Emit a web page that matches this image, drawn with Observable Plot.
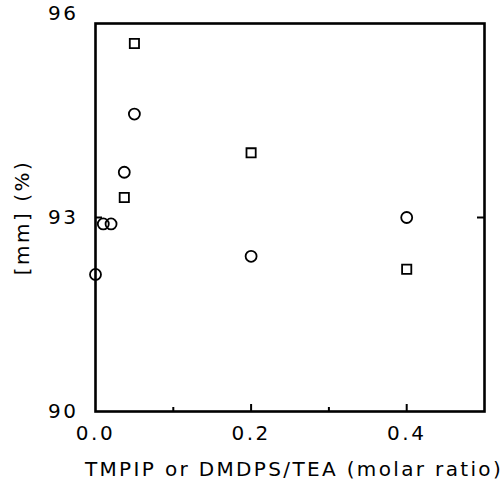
<!DOCTYPE html>
<html>
<head>
<meta charset="utf-8">
<script src="https://cdn.jsdelivr.net/npm/d3@7"></script>
<script src="https://cdn.jsdelivr.net/npm/@observablehq/plot@0.6"></script>
<style>
  html, body { margin: 0; padding: 0; background: #fff; }
</style>
</head>
<body>
<div id="chart"></div>
<script>
// Circle series
const circleX = [0.0, 0.01, 0.02, 0.037, 0.05, 0.2, 0.4];
const circleY = [92.12, 92.9, 92.9, 93.7, 94.6, 92.4, 93.0];
// Square series
const squareX = [0.037, 0.05, 0.2, 0.4];
const squareY = [93.31, 95.69, 94.0, 92.2];
// Axis ticks
const xTickLabels = [0.0, 0.2, 0.4];
const xMajorTicks = [0.2, 0.4];
const xMinorTicks = [0.1, 0.3];
const yTickLabelsLow = [90, 93];
const yTickLabelsTop = [96];
const yInnerTicks = [93];

const circles = circleX.map((x, i) => ({x, y: circleY[i]}));
const squares = squareX.map((x, i) => ({x, y: squareY[i]}));

const W = 504, H = 479;
const mL = 95, mR = 20, mT = 23, mB = 68;
const pw = W - mL - mR, ph = H - mT - mB;

const chart = Plot.plot({
  width: W,
  height: H,
  marginLeft: mL,
  marginRight: mR,
  marginTop: mT,
  marginBottom: mB,
  style: {fontFamily: "DejaVu Sans", color: "#000", background: "#fff"},
  x: {domain: [0, 0.5]},
  y: {domain: [90, 96]},
  marks: [
    Plot.axisX({ticks: xTickLabels, tickSize: 0, tickPadding: 14, fontSize: 20,
      tickFormat: d3.format(".1f"), label: null}),
    Plot.axisX({ticks: [], tickSize: 0, label: "TMPIP or DMDPS/TEA (molar ratio)", fontSize: 20,
      labelAnchor: "center", labelArrow: "none", labelOffset: 64}),
    Plot.axisY({ticks: yTickLabelsLow, tickSize: 0, tickPadding: 17, fontSize: 20,
      tickFormat: d3.format("d"), label: null}),
    Plot.axisY({ticks: yTickLabelsTop, tickSize: 0, tickPadding: 17, fontSize: 20, dy: -10,
      tickFormat: d3.format("d"), label: null}),
    Plot.axisY({ticks: [], tickSize: 0, fontSize: 20,
      label: "[mm] (%)", labelAnchor: "center", labelArrow: "none", labelOffset: 81}),
    Plot.tickX(xMajorTicks, {x: d => d, insetTop: ph - 7, strokeWidth: 2}),
    Plot.tickX(xMinorTicks, {x: d => d, insetTop: ph - 4, strokeWidth: 2}),
    Plot.tickY(yInnerTicks, {y: d => d, insetLeft: pw - 7, strokeWidth: 2}),
    Plot.tickY(yInnerTicks, {y: d => d, insetRight: pw - 7, strokeWidth: 2}),
    Plot.frame({stroke: "#000", strokeWidth: 2.6}),
    Plot.dot(circles, {x: "x", y: "y", r: 5.5, stroke: "#000", strokeWidth: 1.8, symbol: "circle"}),
    Plot.dot(squares, {x: "x", y: "y", r: 5.2, stroke: "#000", strokeWidth: 1.8, symbol: "square"})
  ]
});
chart.querySelectorAll("text").forEach(t => {
  t.style.letterSpacing = "2.5px";
  if (t.textContent.startsWith("TMPIP")) { t.style.letterSpacing = "2.35px"; t.setAttribute("dx", "4"); }
});
document.getElementById("chart").appendChild(chart);
</script>
</body>
</html>
